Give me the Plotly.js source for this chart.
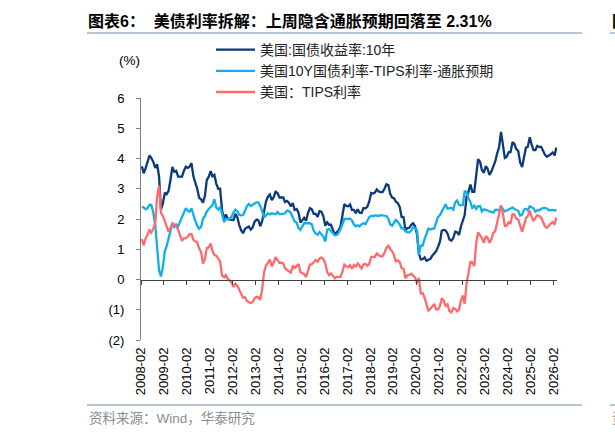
<!DOCTYPE html>
<html><head><meta charset="utf-8">
<script src="https://cdn.plot.ly/plotly-3.0.1.min.js"></script>
<style>html,body{margin:0;padding:0;background:#fff;}#chart{width:615px;height:434px;}</style>
</head><body><div id="chart"></div>
<script>
// Monthly series, starting 2008-02, ending 2026-03
const startYear = 2008, startMonth = 2;
const seriesNames = ["美国:国债收益率:10年", "美国10Y国债利率-TIPS利率-通胀预期", "美国：TIPS利率"];
const us10y = [
  3.74,3.51,3.68,3.88,4.10,4.01,3.89,3.69,3.81,3.40,2.30,
  2.52,2.87,2.82,2.93,3.29,3.72,3.56,3.59,3.40,3.39,3.40,3.59,
  3.73,3.69,3.73,3.85,3.42,3.20,3.01,2.70,2.65,2.54,2.76,3.29,
  3.39,3.58,3.41,3.46,3.17,3.00,3.00,2.30,1.98,2.15,2.01,1.98,
  1.97,1.97,2.17,2.05,1.80,1.62,1.53,1.68,1.72,1.75,1.65,1.72,
  1.91,1.98,1.96,1.76,1.93,2.30,2.58,2.74,2.81,2.62,2.72,2.90,
  2.86,2.71,2.72,2.71,2.56,2.60,2.54,2.42,2.53,2.30,2.33,2.21,
  1.88,1.98,2.04,1.94,2.20,2.36,2.32,2.17,2.17,2.07,2.26,2.24,
  2.09,1.78,1.89,1.81,1.81,1.64,1.50,1.56,1.63,1.76,2.14,2.49,
  2.43,2.42,2.48,2.30,2.30,2.19,2.32,2.21,2.20,2.36,2.35,2.40,
  2.58,2.86,2.84,2.87,2.98,2.91,2.89,2.89,3.00,3.15,3.12,2.83,
  2.71,2.68,2.57,2.53,2.40,2.07,2.06,1.63,1.70,1.71,1.81,1.86,
  1.76,1.50,0.87,0.66,0.67,0.73,0.62,0.65,0.68,0.79,0.87,0.93,
  1.08,1.26,1.61,1.64,1.62,1.52,1.32,1.28,1.37,1.58,1.56,1.47,
  1.76,1.93,2.13,2.75,2.90,3.14,2.90,2.90,3.52,3.98,3.89,3.62,
  3.53,3.75,3.66,3.46,3.57,3.75,3.90,4.17,4.38,4.88,4.50,4.02,
  4.06,4.21,4.21,4.54,4.48,4.31,4.25,3.87,3.72,4.10,4.36,4.39,
  4.70,4.45,4.28,4.28,4.42,4.38,4.39,4.26,4.12,4.06,4.09,4.14,
  4.20,4.10,4.36
];
const breakeven = [
  2.40,2.38,2.32,2.36,2.47,2.46,2.21,1.81,1.06,0.30,0.10,
  0.42,0.94,1.10,1.35,1.60,1.86,1.74,1.82,1.76,1.91,2.12,2.23,
  2.36,2.27,2.24,2.35,2.11,1.94,1.78,1.68,1.74,2.01,2.09,2.25,
  2.33,2.39,2.46,2.65,2.38,2.31,2.40,2.17,1.90,2.00,1.99,2.01,
  2.08,2.22,2.31,2.26,2.14,2.12,2.13,2.27,2.43,2.50,2.43,2.47,
  2.52,2.55,2.55,2.43,2.26,2.05,2.12,2.19,2.15,2.19,2.17,2.16,
  2.23,2.16,2.16,2.17,2.19,2.28,2.26,2.20,2.07,1.92,1.88,1.70,
  1.64,1.78,1.86,1.86,1.87,1.86,1.82,1.61,1.52,1.48,1.57,1.51,
  1.42,1.25,1.64,1.67,1.61,1.52,1.46,1.47,1.54,1.67,1.88,2.00,
  2.00,2.01,2.01,1.95,1.82,1.76,1.79,1.76,1.83,1.86,1.83,1.94,
  2.06,2.11,2.09,2.12,2.12,2.10,2.13,2.12,2.12,2.10,2.01,1.82,
  1.78,1.89,1.97,1.90,1.82,1.69,1.70,1.59,1.56,1.56,1.62,1.73,
  1.70,1.62,0.82,1.12,1.12,1.34,1.48,1.68,1.65,1.68,1.68,1.91,
  2.07,2.13,2.23,2.34,2.49,2.34,2.36,2.37,2.31,2.55,2.61,2.47,
  2.45,2.46,2.93,2.88,2.68,2.56,2.34,2.46,2.33,2.42,2.43,2.25,
  2.32,2.31,2.28,2.25,2.24,2.21,2.30,2.31,2.27,2.43,2.32,2.25,
  2.28,2.32,2.35,2.38,2.33,2.29,2.27,2.11,2.14,2.31,2.34,2.29,
  2.42,2.39,2.35,2.24,2.30,2.28,2.34,2.36,2.37,2.35,2.29,2.29,
  2.30,2.28,2.31
];
const tips = [
  1.34,1.13,1.36,1.52,1.63,1.55,1.68,1.88,2.75,3.10,2.20,
  2.10,1.93,1.72,1.58,1.69,1.86,1.82,1.77,1.64,1.48,1.28,1.36,
  1.37,1.42,1.49,1.50,1.31,1.26,1.23,1.02,0.91,0.53,0.67,1.04,
  1.06,1.19,0.95,0.81,0.79,0.69,0.60,0.13,0.08,0.15,0.02,-0.03,
  -0.11,-0.25,-0.14,-0.21,-0.34,-0.50,-0.60,-0.59,-0.71,-0.75,-0.78,-0.75,
  -0.61,-0.57,-0.59,-0.67,-0.33,0.25,0.46,0.55,0.66,0.43,0.55,0.74,
  0.63,0.55,0.56,0.54,0.37,0.32,0.28,0.22,0.46,0.38,0.45,0.51,
  0.24,0.20,0.18,0.08,0.33,0.50,0.50,0.56,0.65,0.59,0.69,0.73,
  0.67,0.53,0.25,0.14,0.20,0.12,0.04,0.09,0.09,0.09,0.26,0.49,
  0.43,0.41,0.47,0.35,0.48,0.43,0.53,0.45,0.37,0.50,0.52,0.46,
  0.52,0.75,0.75,0.75,0.86,0.81,0.76,0.77,0.88,1.05,1.11,1.01,
  0.93,0.79,0.60,0.63,0.58,0.38,0.36,0.04,0.14,0.15,0.19,0.13,
  0.06,-0.12,0.05,-0.46,-0.45,-0.61,-0.86,-1.03,-0.97,-0.89,-0.81,-0.98,
  -0.99,-0.87,-0.62,-0.70,-0.87,-0.82,-1.04,-1.09,-0.94,-0.97,-1.05,-1.00,
  -0.69,-0.53,-0.80,-0.13,0.22,0.58,0.56,0.44,1.19,1.56,1.46,1.37,
  1.21,1.44,1.38,1.21,1.33,1.54,1.60,1.86,2.11,2.45,2.18,1.77,
  1.78,1.89,1.86,2.16,2.15,2.02,1.98,1.76,1.58,1.79,2.02,2.10,
  2.28,2.06,1.93,2.04,2.12,2.10,2.05,1.90,1.75,1.71,1.80,1.85,
  1.90,1.82,2.05
];
const yTickVals = [-2,-1,0,1,2,3,4,5,6];
const yTickText = ["(2)","(1)","0","1","2","3","4","5","6"];
const titleText = "图表6：  美债利率拆解：上周隐含通胀预期回落至 2.31%";
const sourceText = "资料来源：Wind，华泰研究";

const dates = us10y.map((_, i) => {
  const m0 = startMonth - 1 + i;
  const y = startYear + Math.floor(m0 / 12);
  const m = (m0 % 12) + 1;
  return y + "-" + String(m).padStart(2, "0") + "-15";
});

const colors = ["#0B3A7A", "#12AEEA", "#FF6B6B"];
const vals = [us10y, breakeven, tips];
const traces = vals.map((v, k) => ({
  type: "scatter", mode: "lines", x: dates, y: v, name: seriesNames[k],
  line: {color: colors[k], width: 2.3}, hoverinfo: "skip"
}));
traces.push({type:"scatter", mode:"lines", x:[dates[0]], y:[null], xaxis:"x2", showlegend:false, hoverinfo:"skip"});

const L = 141, R = 557, T = 98, B = 340;
const px = v => (v - L) / (R - L);
const py = v => (B - v) / (B - T);
const xr = ["2008-02-01", "2026-03-25"];
const FONT = "Liberation Sans, Arial, Noto Sans CJK SC, sans-serif";

const layout = {
  width: 615, height: 434,
  margin: {l: L, r: 615 - R, t: T, b: 434 - B},
  paper_bgcolor: "#fff", plot_bgcolor: "#fff",
  font: {family: FONT, color: "#000", size: 13},
  title: {text: titleText, font: {family: FONT, size: 16, color: "#000", weight: "bold"},
          xref: "container", yref: "container", x: 88/615, xanchor: "left", y: 1 - 21/434, yanchor: "middle"},
  showlegend: true,
  legend: {x: px(211), y: py(34), xanchor: "left", yanchor: "top", bgcolor: "rgba(0,0,0,0)",
           font: {size: 14, color: "#222"}, itemwidth: 39, traceorder: "normal"},
  xaxis: {type: "date", range: xr, anchor: "free", position: 0.25, showline: true, linecolor: "#404040", linewidth: 1,
          ticks: "outside", ticklen: 4, tickcolor: "#404040", dtick: "M12", tick0: "2008-02-01",
          showticklabels: false, showgrid: false, zeroline: false},
  xaxis2: {type: "date", range: xr, overlaying: "x", anchor: "y", side: "bottom", showline: false, ticks: "",
           dtick: "M12", tick0: "2008-02-01", tickformat: "%Y-%m", tickangle: -90, tickfont: {size: 13},
           ticklabelstandoff: 4, showgrid: false, zeroline: false},
  yaxis: {range: [-2, 6], tickvals: yTickVals, ticktext: yTickText, showline: true, linecolor: "#808080", linewidth: 1,
          ticks: "outside", ticklen: 4, tickcolor: "#808080", showgrid: false, zeroline: false,
          tickfont: {size: 13}, ticklabelstandoff: 9},
  shapes: [
    {type:"line", xref:"paper", yref:"paper", x0:px(87), x1:px(582), y0:py(33), y1:py(33), line:{color:"#9DB0C8", width:1.5}},
    {type:"line", xref:"paper", yref:"paper", x0:px(610), x1:px(616), y0:py(33), y1:py(33), line:{color:"#9DB0C8", width:1.5}},
    {type:"line", xref:"paper", yref:"paper", x0:px(87), x1:px(582), y0:py(405), y1:py(405), line:{color:"#9DB0C8", width:1.5}},
    {type:"line", xref:"paper", yref:"paper", x0:px(610), x1:px(616), y0:py(405), y1:py(405), line:{color:"#9DB0C8", width:1.5}}
  ],
  annotations: [
    {text: "(%)", xref:"paper", yref:"paper", x: px(117), y: py(61), xanchor:"left", yanchor:"middle", showarrow:false, font:{size:13.5}},
    {text: sourceText, xref:"paper", yref:"paper", x: px(87), y: py(418), xanchor:"left", yanchor:"middle", showarrow:false, font:{size:13.5, color:"#8c8c8c"}},
    {text: "<b>图表</b>", xref:"paper", yref:"paper", x: px(610), y: py(21), xanchor:"left", yanchor:"middle", showarrow:false, font:{size:16}},
    {text: "资料", xref:"paper", yref:"paper", x: px(610), y: py(418), xanchor:"left", yanchor:"middle", showarrow:false, font:{size:13.5, color:"#8c8c8c"}}
  ]
};
Plotly.newPlot("chart", traces, layout, {staticPlot: true, displayModeBar: false});
</script></body></html>
